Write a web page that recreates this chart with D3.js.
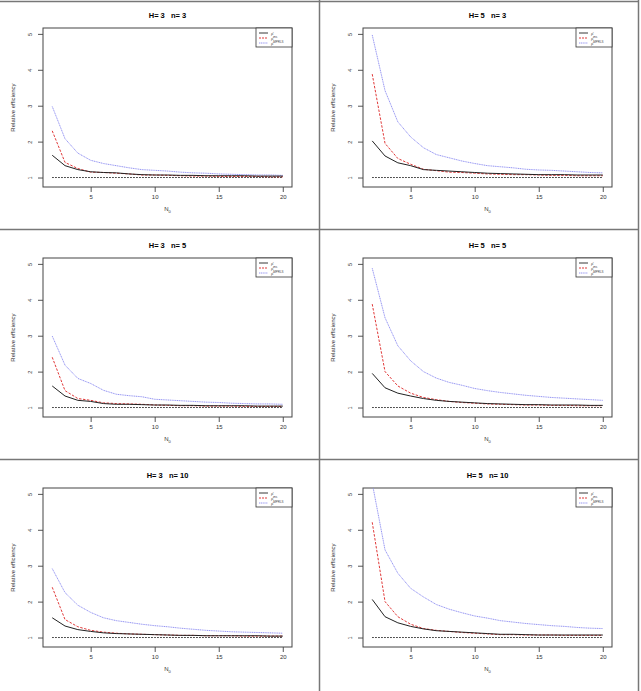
<!DOCTYPE html>
<html>
<head>
<meta charset="utf-8">
<script src="https://cdn.jsdelivr.net/npm/d3@7"></script>
<style>
  body { margin: 0; background: #fff; }
  text { font-family: "Liberation Sans", Arial, sans-serif; }
</style>
</head>
<body>
<div id="chart"></div>
<script>
// x values (N0) shared by every panel
var nValues = [2, 3, 4, 5, 6, 7, 8, 9, 10, 11, 12, 13, 14, 15, 16, 17, 18, 19, 20];
var yTicks = [1, 2, 3, 4, 5];
var xTicks = [5, 10, 15, 20];
var legendLabels = ["c", "ms", "MPRLS"];

// H=3 n=3
var black_H3n3 = [1.62, 1.33, 1.22, 1.16, 1.14, 1.13, 1.10, 1.08, 1.07, 1.07, 1.06, 1.06, 1.05, 1.05, 1.05, 1.05, 1.04, 1.04, 1.04];
var red_H3n3   = [2.30, 1.42, 1.25, 1.15, 1.14, 1.12, 1.10, 1.07, 1.07, 1.06, 1.05, 1.04, 1.04, 1.03, 1.03, 1.03, 1.03, 1.02, 1.02];
var blue_H3n3  = [2.98, 2.08, 1.68, 1.48, 1.39, 1.33, 1.27, 1.22, 1.20, 1.18, 1.15, 1.13, 1.12, 1.10, 1.09, 1.08, 1.07, 1.07, 1.06];
// H=5 n=3
var black_H5n3 = [2.02, 1.60, 1.41, 1.33, 1.22, 1.20, 1.18, 1.16, 1.14, 1.12, 1.11, 1.10, 1.09, 1.08, 1.08, 1.08, 1.07, 1.07, 1.07];
var red_H5n3   = [3.88, 1.95, 1.53, 1.37, 1.23, 1.19, 1.15, 1.14, 1.12, 1.10, 1.09, 1.08, 1.08, 1.07, 1.06, 1.06, 1.05, 1.05, 1.05];
var blue_H5n3  = [4.97, 3.42, 2.55, 2.13, 1.83, 1.64, 1.55, 1.46, 1.39, 1.33, 1.30, 1.27, 1.23, 1.21, 1.20, 1.18, 1.16, 1.14, 1.13];
// H=3 n=5
var black_H3n5 = [1.60, 1.32, 1.20, 1.17, 1.11, 1.09, 1.09, 1.08, 1.07, 1.07, 1.06, 1.06, 1.05, 1.05, 1.05, 1.05, 1.04, 1.04, 1.04];
var red_H3n5   = [2.40, 1.47, 1.25, 1.20, 1.13, 1.11, 1.10, 1.09, 1.07, 1.06, 1.05, 1.05, 1.04, 1.04, 1.04, 1.03, 1.03, 1.03, 1.03];
var blue_H3n5  = [2.99, 2.18, 1.81, 1.67, 1.48, 1.37, 1.33, 1.30, 1.23, 1.21, 1.19, 1.17, 1.15, 1.14, 1.12, 1.11, 1.10, 1.10, 1.09];
// H=5 n=5
var black_H5n5 = [1.95, 1.55, 1.40, 1.32, 1.25, 1.20, 1.17, 1.15, 1.13, 1.11, 1.10, 1.09, 1.08, 1.08, 1.07, 1.07, 1.07, 1.06, 1.06];
var red_H5n5   = [3.88, 2.00, 1.60, 1.40, 1.28, 1.22, 1.17, 1.14, 1.12, 1.10, 1.09, 1.08, 1.07, 1.07, 1.06, 1.06, 1.05, 1.05, 1.05];
var blue_H5n5  = [4.88, 3.50, 2.72, 2.30, 2.00, 1.82, 1.70, 1.62, 1.53, 1.47, 1.42, 1.38, 1.34, 1.31, 1.28, 1.26, 1.24, 1.22, 1.20];
// H=3 n=10
var black_H3n10 = [1.55, 1.32, 1.22, 1.17, 1.13, 1.11, 1.10, 1.09, 1.08, 1.07, 1.06, 1.06, 1.05, 1.05, 1.05, 1.05, 1.05, 1.04, 1.04];
var red_H3n10   = [2.40, 1.50, 1.30, 1.20, 1.15, 1.12, 1.10, 1.09, 1.08, 1.07, 1.06, 1.06, 1.05, 1.05, 1.05, 1.04, 1.04, 1.04, 1.04];
var blue_H3n10  = [2.92, 2.25, 1.90, 1.70, 1.55, 1.47, 1.42, 1.37, 1.33, 1.30, 1.26, 1.23, 1.20, 1.18, 1.16, 1.15, 1.14, 1.13, 1.12];
// H=5 n=10
var black_H5n10 = [2.06, 1.58, 1.41, 1.31, 1.24, 1.19, 1.17, 1.15, 1.13, 1.11, 1.09, 1.09, 1.08, 1.07, 1.07, 1.07, 1.07, 1.07, 1.07];
var red_H5n10   = [4.21, 2.00, 1.58, 1.37, 1.25, 1.20, 1.17, 1.14, 1.12, 1.10, 1.08, 1.08, 1.07, 1.07, 1.07, 1.06, 1.06, 1.06, 1.06];
var blue_H5n10  = [5.30, 3.44, 2.79, 2.37, 2.13, 1.92, 1.79, 1.69, 1.60, 1.54, 1.47, 1.43, 1.39, 1.36, 1.33, 1.31, 1.28, 1.26, 1.25];

var panels = [
    {H: 3, n: 3,  black: black_H3n3,  red: red_H3n3,  blue: blue_H3n3},
    {H: 5, n: 3,  black: black_H5n3,  red: red_H5n3,  blue: blue_H5n3},
    {H: 3, n: 5,  black: black_H3n5,  red: red_H3n5,  blue: blue_H3n5},
    {H: 5, n: 5,  black: black_H5n5,  red: red_H5n5,  blue: blue_H5n5},
    {H: 3, n: 10, black: black_H3n10, red: red_H3n10, blue: blue_H3n10},
    {H: 5, n: 10, black: black_H5n10, red: red_H5n10, blue: blue_H5n10}
];

var width = 641, height = 691;
var cellW = 320, cellH = 230;
// plot box inside each cell
var box = {left: 43, right: 292, top: 28, bottom: 187};

var svg = d3.select("#chart").append("svg")
    .attr("width", width)
    .attr("height", height);

// x / y scales with R style 4% padding
var x = d3.scaleLinear().domain([1.28, 20.72]).range([box.left, box.right]);
var y = d3.scaleLinear().domain([0.736, 5.164]).range([box.bottom, box.top]);

var line = d3.line()
    .x(function(d, i) { return x(nValues[i]); })
    .y(function(d) { return y(d); });

svg.append("defs").append("clipPath").attr("id", "plotclip")
    .append("rect")
    .attr("x", box.left).attr("y", box.top)
    .attr("width", box.right - box.left).attr("height", box.bottom - box.top);

panels.forEach(function(p, k) {
    var col = k % 2, row = Math.floor(k / 2);
    var g = svg.append("g")
        .attr("transform", "translate(" + (col * cellW) + "," + (row * cellH) + ")");

    // title
    g.append("text")
        .attr("x", (box.left + box.right) / 2)
        .attr("y", 17.5)
        .attr("text-anchor", "middle")
        .style("font-size", "7.5px")
        .style("font-weight", "bold")
        .attr("xml:space", "preserve")
        .text("H= " + p.H + "   n= " + p.n);

    // axes
    var yAxis = d3.axisLeft(y).tickValues(yTicks).tickSize(5).tickFormat(d3.format("d"));
    var yg = g.append("g").attr("transform", "translate(" + box.left + ",0)").call(yAxis);
    yg.select(".domain").remove();
    yg.selectAll("line").attr("stroke", "#555");
    yg.selectAll("text")
        .attr("x", null).attr("dy", null)
        .attr("transform", "translate(-11,0) rotate(-90)")
        .attr("y", 0)
        .attr("text-anchor", "middle")
        .style("font-size", "5.5px").attr("fill", "#333");

    var xAxis = d3.axisBottom(x).tickValues(xTicks).tickSize(5).tickPadding(3);
    var xg = g.append("g").attr("transform", "translate(0," + box.bottom + ")").call(xAxis);
    xg.select(".domain").remove();
    xg.selectAll("line").attr("stroke", "#555");
    xg.selectAll("text").style("font-size", "6px").attr("fill", "#333");

    // box
    g.append("rect")
        .attr("x", box.left).attr("y", box.top)
        .attr("width", box.right - box.left).attr("height", box.bottom - box.top)
        .attr("fill", "none").attr("stroke", "#444").attr("stroke-width", 1);

    // axis titles
    g.append("text")
        .attr("transform", "translate(15," + ((box.top + box.bottom) / 2) + ") rotate(-90)")
        .attr("text-anchor", "middle")
        .style("font-size", "6px").attr("fill", "#333")
        .text("Relative efficiency");
    var xl = g.append("text")
        .attr("x", (box.left + box.right) / 2).attr("y", 211)
        .attr("text-anchor", "middle")
        .style("font-size", "6px").attr("fill", "#333");
    xl.append("tspan").text("N");
    xl.append("tspan").attr("dy", 1.5).style("font-size", "4px").text("0");

    var plot = g.append("g").attr("clip-path", "url(#plotclip)");

    // reference line at 1
    plot.append("path")
        .datum(nValues.map(function() { return 1; }))
        .attr("d", line)
        .attr("fill", "none").attr("stroke", "#000").attr("stroke-width", 0.9)
        .attr("stroke-dasharray", "1.5,1.5");

    plot.append("path").datum(p.blue).attr("d", line)
        .attr("fill", "none").attr("stroke", "#8a8af0").attr("stroke-width", 0.9)
        .attr("stroke-dasharray", "1.2,0.6");
    plot.append("path").datum(p.red).attr("d", line)
        .attr("fill", "none").attr("stroke", "#dd2222").attr("stroke-width", 0.9)
        .attr("stroke-dasharray", "2.5,1.5");
    plot.append("path").datum(p.black).attr("d", line)
        .attr("fill", "none").attr("stroke", "#222").attr("stroke-width", 1);

    // legend
    var lg = g.append("g").attr("transform", "translate(256," + box.top + ")");
    lg.append("rect").attr("width", 36).attr("height", 19)
        .attr("fill", "#fff").attr("stroke", "#333").attr("stroke-width", 0.8);
    var styles = [
        {c: "#222", dash: null},
        {c: "#dd2222", dash: "2,1"},
        {c: "#8a8af0", dash: "1.2,0.6"}
    ];
    styles.forEach(function(s, i) {
        var yy = 5 + i * 5;
        lg.append("line").attr("x1", 3).attr("x2", 12).attr("y1", yy).attr("y2", yy)
            .attr("stroke", s.c).attr("stroke-width", 0.9)
            .attr("stroke-dasharray", s.dash);
        var t = lg.append("text").attr("x", 15).attr("y", yy + 1.5)
            .style("font-size", "4px").attr("fill", "#444");
        t.append("tspan").text("\u03C1\u0302");
        if (i > 0) t.append("tspan").attr("dy", -1.2).style("font-size", "3px").text(legendLabels[i]);
    });
});

// table grid around the panels
var grid = svg.append("g").attr("stroke", "#777").attr("stroke-width", 1.5);
grid.append("line").attr("x1", 0).attr("x2", 639).attr("y1", 1.5).attr("y2", 1.5);
grid.append("line").attr("x1", 638.5).attr("x2", 638.5).attr("y1", 0).attr("y2", 691);
grid.append("line").attr("x1", 319.5).attr("x2", 319.5).attr("y1", 0).attr("y2", 691);
grid.append("line").attr("x1", 0).attr("x2", 639).attr("y1", 229.5).attr("y2", 229.5);
grid.append("line").attr("x1", 0).attr("x2", 639).attr("y1", 459.5).attr("y2", 459.5);
</script>
</body>
</html>
